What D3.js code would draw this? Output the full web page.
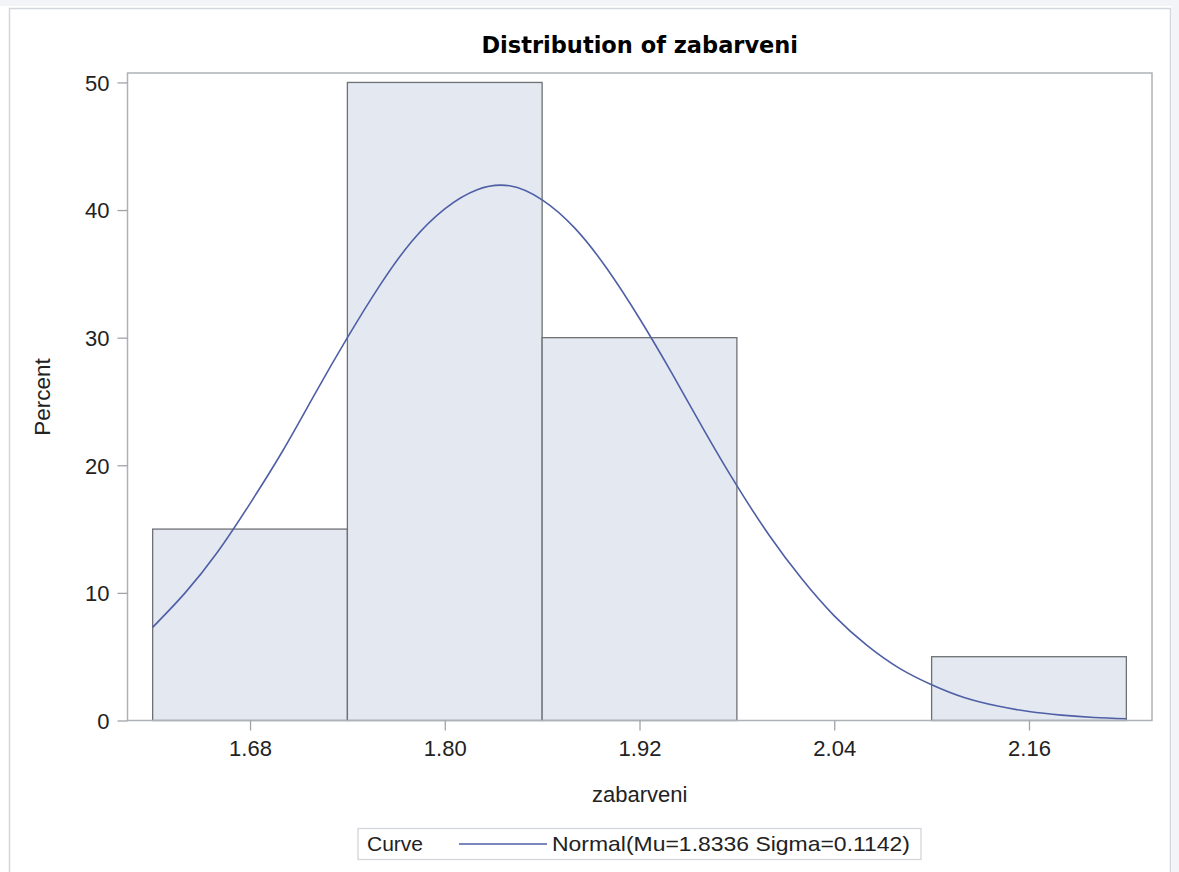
<!DOCTYPE html>
<html><head><meta charset="utf-8">
<script src="https://cdn.jsdelivr.net/npm/d3@7"></script>
<style>html,body{margin:0;padding:0;background:#fff;}svg{display:block;}</style>
</head><body>
<script>
// ---- data ----
const binStarts = [1.62, 1.74, 1.86, 1.98, 2.10];
const binWidth = 0.12;
const percents = [15, 50, 30, 0, 5];
const xTicks = [1.68, 1.80, 1.92, 2.04, 2.16];
const yTicks = [0, 10, 20, 30, 40, 50];
// fitted normal curve (percent per bin width)
const curveX = [1.62,1.64,1.66,1.68,1.70,1.72,1.74,1.76,1.78,1.80,1.82,1.84,1.86,1.88,1.90,1.92,1.94,1.96,1.98,2.00,2.02,2.04,2.06,2.08,2.10,2.12,2.14,2.16,2.18,2.20,2.22];
const curveY = [7.3,10.0,13.2,17.0,21.1,25.6,30.0,34.1,37.6,40.1,41.6,41.9,40.8,38.6,35.4,31.5,27.2,22.7,18.4,14.5,11.1,8.2,5.9,4.1,2.8,1.8,1.15,0.7,0.42,0.24,0.14];
const titleText = "Distribution of zabarveni";
const xLabel = "zabarveni";
const yLabel = "Percent";
const legendTitle = "Curve";
const legendText = "Normal(Mu=1.8336 Sigma=0.1142)";

const W = 1179, H = 872;
const L = 127.5, T = 73, R = 1152, B = 720.5;
const svg = d3.select("body").append("svg").attr("width", W).attr("height", H);
const font = "'Liberation Sans', Arial, sans-serif";

// background framing
svg.append("rect").attr("x",0).attr("y",0).attr("width",W).attr("height",6).attr("fill","#f3f4f7");
svg.append("rect").attr("x",1172).attr("y",0).attr("width",7).attr("height",H).attr("fill","#f3f4f7");
svg.append("rect").attr("x",9.5).attr("y",8.5).attr("width",1161).attr("height",H).attr("fill","#fff").attr("stroke","#d3d6db").attr("stroke-width",1.5);

const x = d3.scaleLinear().domain([1.6045, 2.2358]).range([L, R]);
const y = d3.scaleLinear().domain([0, 50.74]).range([B, T]);

// bars
svg.append("g").selectAll("rect").data(binStarts.map((s,i)=>({s, p:percents[i]})).filter(d=>d.p>0))
  .join("rect")
  .attr("x", d=>x(d.s)).attr("width", d=>x(d.s+binWidth)-x(d.s))
  .attr("y", d=>y(d.p)).attr("height", d=>y(0)-y(d.p))
  .attr("fill","#e3e8f1").attr("stroke","#6f7175").attr("stroke-width",1.3);

// curve
const line = d3.line().x((d,i)=>x(curveX[i])).y(d=>y(d)).curve(d3.curveNatural);
svg.append("path").attr("d", line(curveY)).attr("fill","none").attr("stroke","#4f5fa6").attr("stroke-width",1.6);

// frame
svg.append("rect").attr("x",L).attr("y",T).attr("width",R-L).attr("height",B-T)
  .attr("fill","none").attr("stroke","#aeb2b7").attr("stroke-width",1.5);

// axes
const xAxis = svg.append("g").attr("transform",`translate(0,${B})`)
  .call(d3.axisBottom(x).tickValues(xTicks).tickFormat(d3.format(".2f")).tickSize(10).tickPadding(5));
const yAxis = svg.append("g").attr("transform",`translate(${L},0)`)
  .call(d3.axisLeft(y).tickValues(yTicks).tickFormat(d3.format("d")).tickSize(10).tickPadding(8));
[xAxis,yAxis].forEach(a=>{
  a.select(".domain").remove();
  a.selectAll(".tick line").attr("stroke","#a0a4a9").attr("stroke-width",1.3);
  a.selectAll(".tick text").attr("fill","#222").style("font-family",font).style("font-size","22px");
});
xAxis.selectAll(".tick text").attr("dy","0.92em");
yAxis.selectAll(".tick text").attr("dy","0.36em");

// title & labels
svg.append("text").attr("x",(L+R)/2).attr("y",53).attr("text-anchor","middle")
  .style("font-family","'DejaVu Sans', Verdana, sans-serif").style("font-weight","bold").style("font-size","22.5px").attr("fill","#000").text(titleText);
svg.append("text").attr("x",(L+R)/2).attr("y",802).attr("text-anchor","middle")
  .style("font-family",font).style("font-size","22px").attr("fill","#222").text(xLabel);
svg.append("text").attr("transform","translate(50,397) rotate(-90)").attr("text-anchor","middle")
  .style("font-family",font).style("font-size","22.5px").attr("fill","#222").text(yLabel);

// legend
svg.append("rect").attr("x",358).attr("y",828.5).attr("width",563).attr("height",31)
  .attr("fill","#fff").attr("stroke","#d3d6db").attr("stroke-width",1.3);
svg.append("text").attr("x",367).attr("y",851).style("font-family",font).style("font-size","21px").attr("fill","#222").text(legendTitle);
svg.append("line").attr("x1",459).attr("x2",547).attr("y1",844).attr("y2",844).attr("stroke","#4f5fa6").attr("stroke-width",1.6);
svg.append("text").attr("x",552).attr("y",851).style("font-family",font).style("font-size","21px").attr("fill","#222")
  .attr("textLength",358).attr("lengthAdjust","spacingAndGlyphs").text(legendText);
</script>
</body></html>
